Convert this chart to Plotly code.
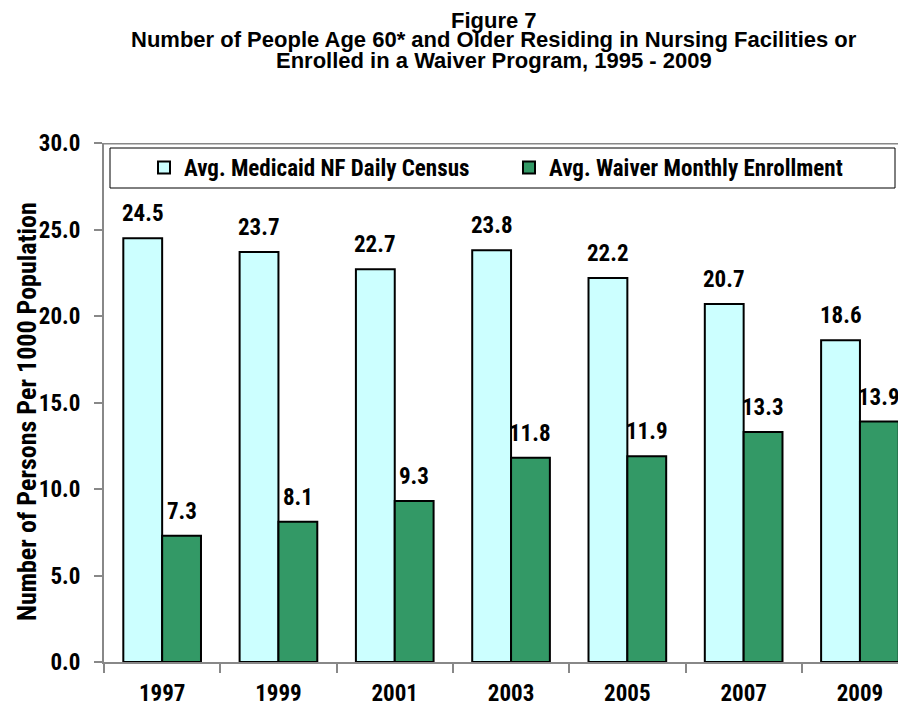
import plotly.graph_objects as go

years = ["1997", "1999", "2001", "2003", "2005", "2007", "2009"]
nf_census = [24.5, 23.7, 22.7, 23.8, 22.2, 20.7, 18.6]
waiver_enroll = [7.3, 8.1, 9.3, 11.8, 11.9, 13.3, 13.9]
y_ticks = [0, 5, 10, 15, 20, 25, 30]
title_lines = [
    "Figure 7",
    "Number of People Age 60* and Older Residing in Nursing Facilities or",
    "Enrolled in a Waiver Program, 1995 - 2009",
]

NARROW = "Roboto Condensed, Liberation Sans Narrow, Arial Narrow, sans-serif"
WIDE = "Liberation Sans, Arial, sans-serif"
CYAN = "#CCFFFF"
GREEN = "#339966"
AXIS_GRAY = "#888888"

W, H = 890, 699
L, T, B = 96, 135, 45
PW, PH = W - L, H - T - B

fig = go.Figure()
fig.add_trace(go.Bar(
    x=years, y=nf_census, name="Avg. Medicaid NF Daily Census",
    marker=dict(color=CYAN, line=dict(color="black", width=2)),
))
fig.add_trace(go.Bar(
    x=years, y=waiver_enroll, name="Avg. Waiver Monthly Enrollment",
    marker=dict(color=GREEN, line=dict(color="black", width=2)),
))

gap = 0.332
half = (1 - gap) / 4
annotations = []
for i, (a, b) in enumerate(zip(nf_census, waiver_enroll)):
    for val, off in ((a, -half), (b, half)):
        annotations.append(dict(
            x=i + off, y=val, xref="x", yref="y", text=f"{val:.1f}",
            showarrow=False, yanchor="bottom", yshift=9,
            font=dict(family=NARROW, size=23, color="black", weight="bold"),
        ))

# title lines
for k, (line, yc) in enumerate(zip(title_lines, [12, 32, 53])):
    annotations.append(dict(
        x=(486 - L) / PW, y=(T + PH - yc) / PH, xref="paper", yref="paper",
        text=line, showarrow=False, xanchor="center", yanchor="middle",
        font=dict(family=WIDE, size=22, color="black", weight="bold"),
    ))

# y axis title
annotations.append(dict(
    x=(19 - L) / PW, y=(T + PH - 404) / PH, xref="paper", yref="paper",
    text="Number of Persons Per 1000 Population", textangle=-90,
    showarrow=False, xanchor="center", yanchor="middle",
    font=dict(family=NARROW, size=26, color="black", weight="bold"),
))

fig.update_layout(
    width=W, height=H,
    margin=dict(l=L, r=0, t=T, b=B, autoexpand=False),
    paper_bgcolor="white", plot_bgcolor="white",
    barmode="group", bargap=gap, bargroupgap=0,
    font=dict(family=NARROW, color="black"),
    showlegend=True,
    legend=dict(
        orientation="h", x=(136 - L) / PW, y=(T + PH - 138) / PH,
        xanchor="left", yanchor="top",
        bgcolor="rgba(0,0,0,0)", borderwidth=0,
        font=dict(family=NARROW, size=23, color="black", weight="bold"),
        entrywidth=320, entrywidthmode="pixels", traceorder="normal",
    ),
    xaxis=dict(
        type="category", range=[-0.5, PW / 116.3 - 0.5], automargin=False,
        showline=True, linecolor=AXIS_GRAY, linewidth=2,
        ticks="outside", tickson="boundaries", ticklen=9, tickcolor=AXIS_GRAY, tickwidth=2,
        tickfont=dict(family=NARROW, size=23, color="black", weight="bold"),
        ticklabelstandoff=9, showgrid=False, zeroline=False, fixedrange=True,
    ),
    yaxis=dict(
        range=[0, 30], tickvals=y_ticks, ticktext=[f"{v:.1f}" for v in y_ticks],
        automargin=False,
        showline=True, linecolor=AXIS_GRAY, linewidth=2,
        ticks="outside", ticklen=8, tickcolor=AXIS_GRAY, tickwidth=2,
        tickfont=dict(family=NARROW, size=23, color="black", weight="bold"),
        ticklabelstandoff=9, showgrid=False, zeroline=False, fixedrange=True,
    ),
    annotations=annotations,
    shapes=[
        dict(type="line", xref="paper", yref="y", x0=0, x1=1, y0=30, y1=30,
             line=dict(color=AXIS_GRAY, width=3)),
        dict(type="rect", xref="paper", yref="paper",
             x0=(102 - L) / PW, x1=(887 - L) / PW,
             y0=(T + PH - 180) / PH, y1=(T + PH - 140) / PH,
             line=dict(color="black", width=1), fillcolor="white", layer="above"),
    ],
)

fig.write_html("out.html")
